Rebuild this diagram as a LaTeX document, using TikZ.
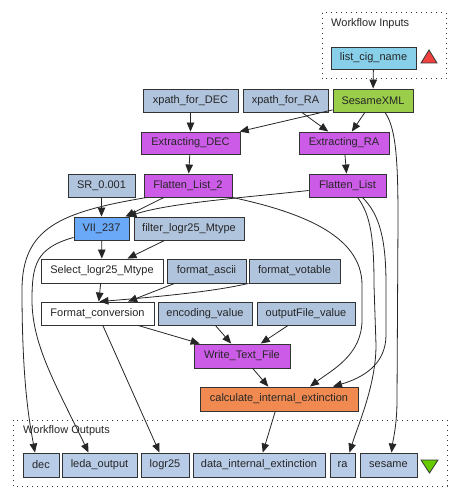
\documentclass[tikz,border=0pt]{standalone}
\usepackage{fontspec}
\setmainfont{Liberation Sans}
\usetikzlibrary{arrows.meta}
\definecolor{cconst}{HTML}{B0C4DE}
\definecolor{cout}{HTML}{B8CCE8}
\definecolor{csky}{HTML}{88D0EA}
\definecolor{cgreen}{HTML}{9ACD4A}
\definecolor{cpurple}{HTML}{CC5CE8}
\definecolor{cblue}{HTML}{6AA8F8}
\definecolor{corange}{HTML}{F08A50}
\definecolor{cred}{HTML}{F04040}
\definecolor{cgtri}{HTML}{66CC00}
\tikzset{
  box/.style={draw=black!80, line width=0.9pt, inner sep=0pt, minimum height=23pt,
    font=\fontsize{11}{13}\selectfont, text=black!85},
  konst/.style={box, fill=cconst},
  outbox/.style={box, fill=cout, minimum height=24pt},
  proc/.style={box, fill=cpurple},
  edge/.style={draw=black!85, line width=0.8pt, -{Triangle[length=9pt,width=7.5pt]}},
  cluster/.style={draw=black!80, line width=1pt, dash pattern=on 1pt off 4pt},
  clabel/.style={anchor=west, inner sep=0pt, font=\fontsize{11}{13}\selectfont, text=black!85}
}
\begin{document}
\begin{tikzpicture}[x=1pt,y=-1pt]
\useasboundingbox[fill=white] (0,0) rectangle (460,500);
% clusters
\draw[cluster] (322,13) rectangle (446,79);
\node[clabel] (inlab) at (331,24) {Workflow Inputs};
\draw[cluster] (13,420) rectangle (447,486);
\node[clabel] (outlab) at (23,431) {Workflow Outputs};
% nodes
\node[box, fill=csky, minimum width=85pt, minimum height=22pt] (list) at (373.5,58) {list\_cig\_name};
\draw[black!80, line width=0.8pt, fill=cred] (421,63) -- (437,63) -- (429,50) -- cycle;
\node[box, fill=cgreen, minimum width=80pt] (sesxml) at (373,100.5) {SesameXML};
\node[konst, minimum width=95pt] (xdec) at (190.5,100.5) {xpath\_for\_DEC};
\node[konst, minimum width=85pt] (xra) at (285.5,100.5) {xpath\_for\_RA};
\node[proc, minimum width=99pt, minimum height=22pt] (exdec) at (190.5,143) {Extracting\_DEC};
\node[proc, minimum width=90pt, minimum height=22pt] (exra) at (344,143) {Extracting\_RA};
\node[konst, minimum width=67pt] (sr) at (101.5,185.5) {SR\_0.001};
\node[proc, minimum width=88pt] (fl2) at (188,185.5) {Flatten\_List\_2};
\node[proc, minimum width=77pt] (fl) at (347.5,185.5) {Flatten\_List};
\node[box, fill=cblue, minimum width=55pt] (vii) at (101.5,228.5) {VII\_237};
\node[konst, minimum width=110pt] (filt) at (189,228.5) {filter\_logr25\_Mtype};
\node[box, fill=white, minimum width=122pt, minimum height=24pt] (sel) at (102,271) {Select\_logr25\_Mtype};
\node[konst, minimum width=79pt, minimum height=24pt] (fasc) at (206.5,271) {format\_ascii};
\node[konst, minimum width=91pt, minimum height=24pt] (fvot) at (294.5,271) {format\_votable};
\node[box, fill=white, minimum width=113pt] (fconv) at (97.5,313.5) {Format\_conversion};
\node[konst, minimum width=94pt] (enc) at (205,313.5) {encoding\_value};
\node[konst, minimum width=98pt] (outf) at (306,313.5) {outputFile\_value};
\node[proc, minimum width=96pt, minimum height=24pt] (wtf) at (242,356) {Write\_Text\_File};
\node[box, fill=corange, minimum width=158pt, minimum height=24pt] (calc) at (279,399) {calculate\_internal\_extinction};
% outputs
\node[outbox, minimum width=36pt] (dec) at (41,465) {dec};
\node[outbox, minimum width=75pt] (leda) at (99.5,465) {leda\_output};
\node[outbox, minimum width=48pt] (logr) at (165,465) {logr25};
\node[outbox, minimum width=132pt] (die) at (259,465) {data\_internal\_extinction};
\node[outbox, minimum width=25pt] (ra) at (342.5,465) {ra};
\node[outbox, minimum width=57pt] (ses) at (388.5,465) {sesame};
\draw[black!80, line width=0.8pt, fill=cgtri] (421,460) -- (438,460) -- (429.5,473) -- cycle;
% edges
\draw[edge] (list) -- (sesxml);
\draw[edge] (xdec) -- (exdec);
\draw[edge] (sesxml) -- (exdec);
\draw[edge] (xra) -- (exra);
\draw[edge] (sesxml) -- (exra);
\draw[edge] ([xshift=12pt]sesxml.south) .. controls (396,128) and (398,160) .. (398,220)
   -- (397,400) .. controls (397,425) and (393,440) .. ([xshift=3pt]ses.north);
\draw[edge] (exdec) -- (fl2);
\draw[edge] (exra) -- (fl);
\draw[edge] (sr) -- (vii);
\draw[edge] (fl2) -- (vii);
\draw[edge] ([yshift=-5pt]fl.west) .. controls (240,198) and (170,203) .. ([xshift=-2pt]vii.north east);
\draw[edge] ([xshift=-41pt]fl2.south) .. controls (60,212) and (22,228) .. (22,290)
   .. controls (22,380) and (29,420) .. ([xshift=-6pt]dec.north);
\draw[edge] ([yshift=3pt]vii.south west) .. controls (36,248) and (32,265) .. (32,300)
   .. controls (32,345) and (56,385) .. ([xshift=-11pt]leda.north);
\draw[edge] (fl2.south east) .. controls (300,212) and (362,235) .. (362,285)
   -- (362,320) .. controls (362,355) and (332,370) .. ([xshift=31pt]calc.north);
\draw[edge] ([xshift=10pt]fl.south) .. controls (371,215) and (374,240) .. (374,285)
   -- (376,345) .. controls (376,385) and (358,425) .. ([xshift=7pt]ra.north);
\draw[edge] ([xshift=15pt]fl.south) .. controls (380,215) and (386,240) .. (386,285)
   -- (386,335) .. controls (386,365) and (362,378) .. ([xshift=54pt]calc.north);
\draw[edge] (vii) -- (sel);
\draw[edge] (filt) -- (sel);
\draw[edge] (sel) -- (fconv);
\draw[edge] (fasc) -- (fconv);
\draw[edge] ([xshift=-46pt]fvot.south) .. controls (220,290) and (180,295) .. ([xshift=-55pt]fconv.north east);
\draw[edge] (fconv) -- (wtf);
\draw[edge] (fconv) -- (logr);
\draw[edge] (enc) -- (wtf);
\draw[edge] (outf) -- (wtf);
\draw[edge] (wtf) -- (calc);
\draw[edge] (calc) -- (die);
\end{tikzpicture}
\end{document}
